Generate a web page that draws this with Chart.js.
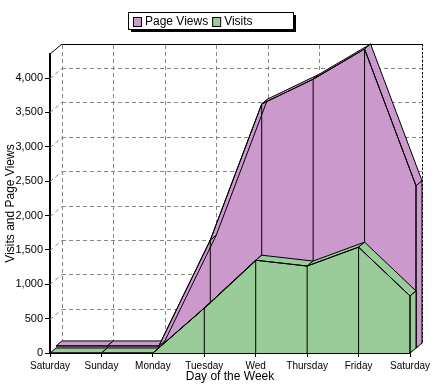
<!DOCTYPE html>
<html>
<head>
<meta charset="utf-8">
<script src="https://cdn.jsdelivr.net/npm/chart.js@4.4.1/dist/chart.umd.min.js"></script>
<style>
  html, body { margin: 0; padding: 0; background: #fff; }
</style>
</head>
<body>
<canvas id="chart" width="434" height="384"></canvas>
<script>
// data
const days = ['Saturday', 'Sunday', 'Monday', 'Tuesday', 'Wed', 'Thursday', 'Friday', 'Saturday'];
const pageViews = [30, 30, 30, 1570, 3550, 3910, 4350, 2360];
const visits = [0, 0, 0, 655, 1350, 1265, 1540, 830];
const seriesNames = ['Page Views', 'Visits'];
const yTicks = [0, 500, 1000, 1500, 2000, 2500, 3000, 3500, 4000];
const yMax = 4350;

const pink = '#cc99cc';
const green = '#99cc99';
const FONT = '"Liberation Sans", Arial, sans-serif';

// 3d look: whole box depth, each series takes half of it
const depth = { x: 12, y: -10 };
const half = { x: 6, y: -5 };

function line(ctx, x1, y1, x2, y2) {
    ctx.beginPath();
    ctx.moveTo(x1, y1);
    ctx.lineTo(x2, y2);
    ctx.stroke();
}

function drawDepth(ctx, meta, color, base) {
    const pts = meta.data;
    ctx.save();
    ctx.fillStyle = color;
    ctx.strokeStyle = '#000';
    ctx.lineWidth = 1;
    for (let i = 0; i < pts.length - 1; i++) {
        const p = pts[i], q = pts[i + 1];
        ctx.beginPath();
        ctx.moveTo(p.x, p.y);
        ctx.lineTo(q.x, q.y);
        ctx.lineTo(q.x + half.x, q.y + half.y);
        ctx.lineTo(p.x + half.x, p.y + half.y);
        ctx.closePath();
        ctx.fill();
        ctx.stroke();
    }
    // right end cap
    const e = pts[pts.length - 1];
    ctx.beginPath();
    ctx.moveTo(e.x, base);
    ctx.lineTo(e.x, e.y);
    ctx.lineTo(e.x + half.x, e.y + half.y);
    ctx.lineTo(e.x + half.x, base + half.y);
    ctx.closePath();
    ctx.fill();
    ctx.stroke();
    ctx.restore();
}

//This plugin draws the back wall, the depth faces and shifts the back series.
const boxPlugin = {
    id: 'box3d',
    beforeDatasetsDraw(chart) {
        const ctx = chart.ctx, a = chart.chartArea;
        const xs = chart.scales.x, ys = chart.scales.y;
        ctx.save();
        ctx.lineWidth = 1;
        ctx.strokeStyle = '#888';
        ctx.setLineDash([4, 3]);
        yTicks.forEach(v => {
            const y = Math.round(ys.getPixelForValue(v)) + 0.5;
            line(ctx, a.left, y, a.left + depth.x, y + depth.y);
            line(ctx, a.left + depth.x, y + depth.y, a.right + depth.x, y + depth.y);
        });
        days.forEach((d, i) => {
            const x = Math.round(xs.getPixelForValue(i)) + 0.5;
            line(ctx, x, a.bottom, x + depth.x, a.bottom + depth.y);
            line(ctx, x + depth.x, a.bottom + depth.y, x + depth.x, a.top + depth.y);
        });
        ctx.setLineDash([]);
        ctx.strokeStyle = '#000';
        line(ctx, a.left, a.top, a.left + depth.x, a.top + depth.y);
        line(ctx, a.left + depth.x, a.top + depth.y + 0.5, a.right + depth.x, a.top + depth.y + 0.5);
        ctx.setLineDash([2, 2]);
        line(ctx, a.right + depth.x + 0.5, a.top + depth.y, a.right + depth.x + 0.5, a.bottom + depth.y);
        ctx.restore();
        // the back series sits half a step deeper
        ctx.save();
        ctx.translate(half.x, half.y);
    },
    beforeDatasetDraw(chart, args) {
        const base = chart.scales.y.getPixelForValue(0);
        drawDepth(chart.ctx, args.meta, args.index === 0 ? pink : green, base);
    },
    afterDatasetDraw(chart, args) {
        const ctx = chart.ctx;
        const base = chart.scales.y.getPixelForValue(0);
        ctx.save();
        ctx.strokeStyle = '#000';
        ctx.lineWidth = 1;
        args.meta.data.forEach((p, i) => {
            if (i > 0) line(ctx, p.x, p.y, p.x, base);
        });
        ctx.restore();
        if (args.index === 0) ctx.restore();
    }
};

// boxed legend with a shadow, like the original
const legendPlugin = {
    id: 'boxLegend',
    afterDraw(chart) {
        const ctx = chart.ctx;
        const bx = 128, by = 12, bw = 165, bh = 17;
        ctx.save();
        ctx.fillStyle = '#000';
        ctx.fillRect(bx + 3, by + 3, bw, bh);
        ctx.fillStyle = '#fff';
        ctx.fillRect(bx, by, bw, bh);
        ctx.strokeStyle = '#000';
        ctx.lineWidth = 1;
        ctx.strokeRect(bx + 0.5, by + 0.5, bw, bh);
        ctx.font = '12px ' + FONT;
        ctx.textBaseline = 'middle';
        let x = bx + 5;
        chart.data.datasets.forEach(ds => {
            ctx.fillStyle = ds.backgroundColor;
            ctx.fillRect(x, by + 5, 8, 9);
            ctx.strokeRect(x + 0.5, by + 5.5, 8, 9);
            ctx.fillStyle = '#000';
            ctx.fillText(ds.label, x + 12, by + 10);
            x += 12 + ctx.measureText(ds.label).width + 4;
        });
        ctx.restore();
    }
};

const ctx = document.getElementById('chart').getContext('2d');
const myChart = new Chart(ctx, {
    type: 'line',
    data: {
        labels: days,
        datasets: [{
            label: seriesNames[0],
            data: pageViews,
            order: 1,
            backgroundColor: pink,
            borderColor: '#000',
            borderWidth: 1,
            pointRadius: 0,
            fill: 'origin',
            clip: false
        }, {
            label: seriesNames[1],
            data: visits,
            order: 0,
            backgroundColor: green,
            borderColor: '#000',
            borderWidth: 1,
            pointRadius: 0,
            fill: 'origin',
            clip: false
        }]
    },
    options: {
        responsive: false,
        animation: false,
        devicePixelRatio: 1,
        layout: { padding: { top: 54, right: 24, left: 0, bottom: 0 } },
        elements: { line: { tension: 0 } },
        plugins: {
            legend: { display: false },
            tooltip: { enabled: false }
        },
        scales: {
            x: {
                offset: false,
                afterFit: s => { s.height = 31; },
                grid: { color: 'rgba(0,0,0,0)', tickColor: '#000', tickLength: 4, offset: false },
                border: { color: '#000', width: 1 },
                ticks: { color: '#000', font: { family: FONT, size: 10 }, autoSkip: false, maxRotation: 0, padding: 3 },
                title: { display: true, text: 'Day of the Week', color: '#000', font: { family: FONT, size: 12 }, padding: { top: 0, bottom: 0 } }
            },
            y: {
                min: 0,
                max: yMax,
                afterFit: s => { s.width = 50; },
                afterBuildTicks: s => { s.ticks = yTicks.map(v => ({ value: v })); },
                grid: { color: 'rgba(0,0,0,0)', tickColor: '#000', tickLength: 5 },
                border: { color: '#000', width: 2 },
                ticks: {
                    color: '#000',
                    font: { family: FONT, size: 11 },
                    padding: 2,
                    callback: v => v.toLocaleString('en-US')
                },
                title: { display: true, text: 'Visits and Page Views', color: '#000', font: { family: FONT, size: 12 }, padding: { top: 3, bottom: 0 } }
            }
        }
    },
    plugins: [boxPlugin, legendPlugin]
});
</script>
</body>
</html>
